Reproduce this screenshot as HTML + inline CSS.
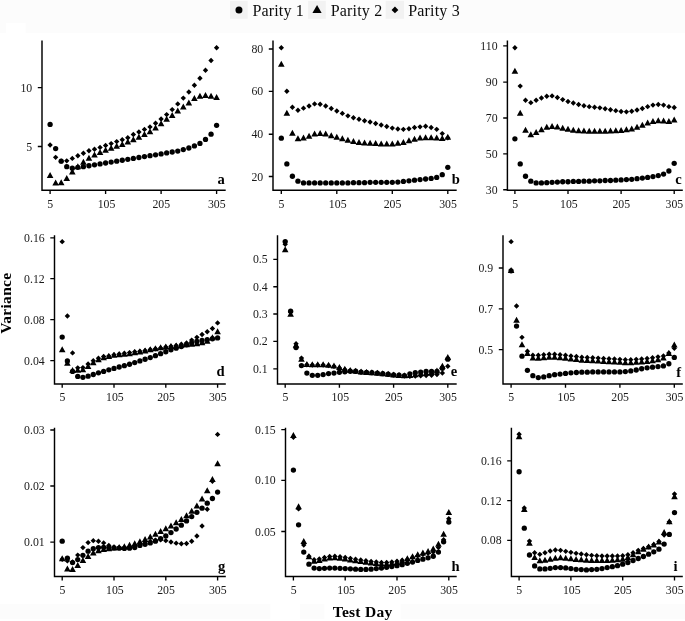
<!DOCTYPE html>
<html><head><meta charset="utf-8"><title>Variance by Test Day</title>
<style>
html,body{margin:0;padding:0;background:#fff;}
body{width:685px;height:621px;overflow:hidden;font-family:"Liberation Serif",serif;}
svg{display:block;will-change:transform;}
text{font-family:"Liberation Serif",serif;fill:#1a1a1a;}
.tk{font-size:11.8px;}
.pl{font-size:14.6px;font-weight:bold;fill:#000;}
.ax{stroke:#000;stroke-width:1.45;fill:none;}
.ti{stroke:#000;stroke-width:1.35;fill:none;}
.m{fill:#000;}
</style></head><body>
<svg width="685" height="621" viewBox="0 0 685 621">
<rect x="0" y="0" width="685" height="621" fill="#ffffff"/>
<rect x="0" y="0" width="685" height="33" fill="#fcfcfc"/>
<rect x="6" y="23" width="19.5" height="10" fill="#ffffff"/>
<rect x="0" y="604" width="685" height="15" fill="#fcfcfc"/>
<rect x="270.5" y="604" width="29.5" height="15" fill="#ffffff"/>
<rect x="324.5" y="604" width="76" height="15" fill="#ffffff"/>

<g id="legend">
<rect x="230.0" y="0.9" width="17.7" height="17.9" fill="#f2f2f2"/>
<circle class="m" cx="238.95" cy="9.9" r="3.5"/>
<text x="252.4" y="15.5" font-size="16" letter-spacing="0.16" style="fill:#0d0d0d">Parity 1</text>
<rect x="308.1" y="0.9" width="17.7" height="17.9" fill="#f2f2f2"/>
<path class="m" d="M317.05,5.0 L321.65,13.100000000000001 L312.45,13.100000000000001 Z"/>
<text x="330.8" y="15.5" font-size="16" letter-spacing="0.16" style="fill:#0d0d0d">Parity 2</text>
<rect x="385.7" y="0.9" width="18.3" height="17.9" fill="#f2f2f2"/>
<path class="m" d="M394.95,6.5 L398.35,9.9 L394.95,13.3 L391.55,9.9 Z"/>
<text x="408.3" y="15.5" font-size="16" letter-spacing="0.16" style="fill:#0d0d0d">Parity 3</text>
</g>
<g id="panel-a">
<path class="ax" d="M42.0,40.5 L42.0,190.15 L225.7,190.15"/>
<path class="ti" d="M37.8,87.6 L42.0,87.6 M37.8,146.5 L42.0,146.5 M50.1,190.15 L50.1,194.05 M105.6,190.15 L105.6,194.05 M161.1,190.15 L161.1,194.05 M216.6,190.15 L216.6,194.05"/>
<text class="tk" x="32.2" y="91.6" text-anchor="end">10</text>
<text class="tk" x="32.2" y="150.5" text-anchor="end">5</text>
<text class="tk" x="50.3" y="207.55" text-anchor="middle">5</text>
<text class="tk" x="106.5" y="207.55" text-anchor="middle">105</text>
<text class="tk" x="161.3" y="207.55" text-anchor="middle">205</text>
<text class="tk" x="216.8" y="207.55" text-anchor="middle">305</text>
<g class="m"><circle cx="50.1" cy="124.46" r="2.65"/><circle cx="55.65" cy="148.62" r="2.65"/><circle cx="61.2" cy="161.16" r="2.65"/><circle cx="66.75" cy="166.67" r="2.65"/><circle cx="72.3" cy="168.2" r="2.65"/><circle cx="77.85" cy="167.28" r="2.65"/><circle cx="83.4" cy="166.67" r="2.65"/><circle cx="88.95" cy="165.75" r="2.65"/><circle cx="94.5" cy="164.83" r="2.65"/><circle cx="100.05" cy="163.91" r="2.65"/><circle cx="105.6" cy="163.0" r="2.65"/><circle cx="111.15" cy="162.08" r="2.65"/><circle cx="116.7" cy="161.16" r="2.65"/><circle cx="122.25" cy="160.24" r="2.65"/><circle cx="127.8" cy="159.33" r="2.65"/><circle cx="133.35" cy="158.41" r="2.65"/><circle cx="138.9" cy="157.5" r="2.65"/><circle cx="144.45" cy="156.6" r="2.65"/><circle cx="150.0" cy="155.7" r="2.65"/><circle cx="155.55" cy="154.8" r="2.65"/><circle cx="161.1" cy="153.9" r="2.65"/><circle cx="166.65" cy="152.9" r="2.65"/><circle cx="172.2" cy="152.0" r="2.65"/><circle cx="177.75" cy="151.1" r="2.65"/><circle cx="183.3" cy="149.6" r="2.65"/><circle cx="188.85" cy="148.0" r="2.65"/><circle cx="194.4" cy="145.9" r="2.65"/><circle cx="199.95" cy="143.4" r="2.65"/><circle cx="205.5" cy="139.4" r="2.65"/><circle cx="211.05" cy="134.2" r="2.65"/><circle cx="216.6" cy="125.3" r="2.65"/></g>
<path class="m" d="M50.1,171.92l3.3,6.0h-6.6zM55.65,179.57l3.3,6.0h-6.6zM61.2,179.26l3.3,6.0h-6.6zM66.75,174.98l3.3,6.0h-6.6zM72.3,168.56l3.3,6.0h-6.6zM77.85,163.36l3.3,6.0h-6.6zM83.4,158.77l3.3,6.0h-6.6zM88.95,154.8l3.3,6.0h-6.6zM94.5,151.43l3.3,6.0h-6.6zM100.05,148.99l3.3,6.0h-6.6zM105.6,146.69l3.3,6.0h-6.6zM111.15,144.71l3.3,6.0h-6.6zM116.7,142.87l3.3,6.0h-6.6zM122.25,140.88l3.3,6.0h-6.6zM127.8,138.59l3.3,6.0h-6.6zM133.35,136.14l3.3,6.0h-6.6zM138.9,133.7l3.3,6.0h-6.6zM144.45,131.0l3.3,6.0h-6.6zM150.0,128.3l3.3,6.0h-6.6zM155.55,124.5l3.3,6.0h-6.6zM161.1,120.3l3.3,6.0h-6.6zM166.65,115.7l3.3,6.0h-6.6zM172.2,111.9l3.3,6.0h-6.6zM177.75,107.6l3.3,6.0h-6.6zM183.3,103.5l3.3,6.0h-6.6zM188.85,99.4l3.3,6.0h-6.6zM194.4,95.1l3.3,6.0h-6.6zM199.95,92.8l3.3,6.0h-6.6zM205.5,92.0l3.3,6.0h-6.6zM211.05,92.8l3.3,6.0h-6.6zM216.6,93.9l3.3,6.0h-6.6z"/>
<path class="m" d="M50.1,142.25l2.7,2.7l-2.7,2.7l-2.7,-2.7zM55.65,154.64l2.7,2.7l-2.7,2.7l-2.7,-2.7zM61.2,158.46l2.7,2.7l-2.7,2.7l-2.7,-2.7zM66.75,158.16l2.7,2.7l-2.7,2.7l-2.7,-2.7zM72.3,155.71l2.7,2.7l-2.7,2.7l-2.7,-2.7zM77.85,153.11l2.7,2.7l-2.7,2.7l-2.7,-2.7zM83.4,150.51l2.7,2.7l-2.7,2.7l-2.7,-2.7zM88.95,148.06l2.7,2.7l-2.7,2.7l-2.7,-2.7zM94.5,146.54l2.7,2.7l-2.7,2.7l-2.7,-2.7zM100.05,144.7l2.7,2.7l-2.7,2.7l-2.7,-2.7zM105.6,142.87l2.7,2.7l-2.7,2.7l-2.7,-2.7zM111.15,140.88l2.7,2.7l-2.7,2.7l-2.7,-2.7zM116.7,138.89l2.7,2.7l-2.7,2.7l-2.7,-2.7zM122.25,137.06l2.7,2.7l-2.7,2.7l-2.7,-2.7zM127.8,135.07l2.7,2.7l-2.7,2.7l-2.7,-2.7zM133.35,131.8l2.7,2.7l-2.7,2.7l-2.7,-2.7zM138.9,129.3l2.7,2.7l-2.7,2.7l-2.7,-2.7zM144.45,126.7l2.7,2.7l-2.7,2.7l-2.7,-2.7zM150.0,124.2l2.7,2.7l-2.7,2.7l-2.7,-2.7zM155.55,120.6l2.7,2.7l-2.7,2.7l-2.7,-2.7zM161.1,116.3l2.7,2.7l-2.7,2.7l-2.7,-2.7zM166.65,111.9l2.7,2.7l-2.7,2.7l-2.7,-2.7zM172.2,106.9l2.7,2.7l-2.7,2.7l-2.7,-2.7zM177.75,101.2l2.7,2.7l-2.7,2.7l-2.7,-2.7zM183.3,95.4l2.7,2.7l-2.7,2.7l-2.7,-2.7zM188.85,89.3l2.7,2.7l-2.7,2.7l-2.7,-2.7zM194.4,82.6l2.7,2.7l-2.7,2.7l-2.7,-2.7zM199.95,75.5l2.7,2.7l-2.7,2.7l-2.7,-2.7zM205.5,67.6l2.7,2.7l-2.7,2.7l-2.7,-2.7zM211.05,57.8l2.7,2.7l-2.7,2.7l-2.7,-2.7zM216.6,45.1l2.7,2.7l-2.7,2.7l-2.7,-2.7z"/>
<text class="pl" x="221.1" y="183.8" text-anchor="middle">a</text>
</g>
<g id="panel-b">
<path class="ax" d="M273.0,40.5 L273.0,190.15 L456.7,190.15"/>
<path class="ti" d="M268.8,49.0 L273.0,49.0 M268.8,91.3 L273.0,91.3 M268.8,134.2 L273.0,134.2 M268.8,176.5 L273.0,176.5 M281.3,190.15 L281.3,194.05 M336.8,190.15 L336.8,194.05 M392.3,190.15 L392.3,194.05 M447.8,190.15 L447.8,194.05"/>
<text class="tk" x="263.2" y="53.0" text-anchor="end">80</text>
<text class="tk" x="263.2" y="95.3" text-anchor="end">60</text>
<text class="tk" x="263.2" y="138.2" text-anchor="end">40</text>
<text class="tk" x="263.2" y="180.5" text-anchor="end">20</text>
<text class="tk" x="281.5" y="207.55" text-anchor="middle">5</text>
<text class="tk" x="337.7" y="207.55" text-anchor="middle">105</text>
<text class="tk" x="392.5" y="207.55" text-anchor="middle">205</text>
<text class="tk" x="448.0" y="207.55" text-anchor="middle">305</text>
<g class="m"><circle cx="281.3" cy="138.22" r="2.65"/><circle cx="286.85" cy="163.97" r="2.65"/><circle cx="292.4" cy="176.23" r="2.65"/><circle cx="297.95" cy="181.13" r="2.65"/><circle cx="303.5" cy="182.97" r="2.65"/><circle cx="309.05" cy="182.97" r="2.65"/><circle cx="314.6" cy="182.97" r="2.65"/><circle cx="320.15" cy="182.97" r="2.65"/><circle cx="325.7" cy="182.97" r="2.65"/><circle cx="331.25" cy="182.97" r="2.65"/><circle cx="336.8" cy="182.97" r="2.65"/><circle cx="342.35" cy="182.97" r="2.65"/><circle cx="347.9" cy="182.97" r="2.65"/><circle cx="353.45" cy="182.67" r="2.65"/><circle cx="359.0" cy="182.67" r="2.65"/><circle cx="364.55" cy="182.67" r="2.65"/><circle cx="370.1" cy="182.36" r="2.65"/><circle cx="375.65" cy="182.36" r="2.65"/><circle cx="381.2" cy="182.36" r="2.65"/><circle cx="386.75" cy="182.36" r="2.65"/><circle cx="392.3" cy="182.36" r="2.65"/><circle cx="397.85" cy="182.05" r="2.65"/><circle cx="403.4" cy="181.44" r="2.65"/><circle cx="408.95" cy="180.83" r="2.65"/><circle cx="414.5" cy="180.21" r="2.65"/><circle cx="420.05" cy="179.6" r="2.65"/><circle cx="425.6" cy="178.99" r="2.65"/><circle cx="431.15" cy="178.38" r="2.65"/><circle cx="436.7" cy="177.46" r="2.65"/><circle cx="442.25" cy="174.7" r="2.65"/><circle cx="447.8" cy="167.34" r="2.65"/></g>
<path class="m" d="M281.3,60.72l3.3,6.0h-6.6zM286.85,109.77l3.3,6.0h-6.6zM292.4,129.7l3.3,6.0h-6.6zM297.95,135.22l3.3,6.0h-6.6zM303.5,134.6l3.3,6.0h-6.6zM309.05,132.76l3.3,6.0h-6.6zM314.6,130.62l3.3,6.0h-6.6zM320.15,130.0l3.3,6.0h-6.6zM325.7,130.62l3.3,6.0h-6.6zM331.25,132.15l3.3,6.0h-6.6zM336.8,133.68l3.3,6.0h-6.6zM342.35,135.22l3.3,6.0h-6.6zM347.9,136.75l3.3,6.0h-6.6zM353.45,137.97l3.3,6.0h-6.6zM359.0,138.89l3.3,6.0h-6.6zM364.55,139.51l3.3,6.0h-6.6zM370.1,139.81l3.3,6.0h-6.6zM375.65,140.12l3.3,6.0h-6.6zM381.2,140.43l3.3,6.0h-6.6zM386.75,140.43l3.3,6.0h-6.6zM392.3,140.43l3.3,6.0h-6.6zM397.85,139.81l3.3,6.0h-6.6zM403.4,138.89l3.3,6.0h-6.6zM408.95,137.36l3.3,6.0h-6.6zM414.5,135.83l3.3,6.0h-6.6zM420.05,134.6l3.3,6.0h-6.6zM425.6,134.3l3.3,6.0h-6.6zM431.15,134.3l3.3,6.0h-6.6zM436.7,134.6l3.3,6.0h-6.6zM442.25,134.91l3.3,6.0h-6.6zM447.8,133.68l3.3,6.0h-6.6z"/>
<path class="m" d="M281.3,45.08l2.7,2.7l-2.7,2.7l-2.7,-2.7zM286.85,88.61l2.7,2.7l-2.7,2.7l-2.7,-2.7zM292.4,104.55l2.7,2.7l-2.7,2.7l-2.7,-2.7zM297.95,107.62l2.7,2.7l-2.7,2.7l-2.7,-2.7zM303.5,105.47l2.7,2.7l-2.7,2.7l-2.7,-2.7zM309.05,103.33l2.7,2.7l-2.7,2.7l-2.7,-2.7zM314.6,101.18l2.7,2.7l-2.7,2.7l-2.7,-2.7zM320.15,101.49l2.7,2.7l-2.7,2.7l-2.7,-2.7zM325.7,103.33l2.7,2.7l-2.7,2.7l-2.7,-2.7zM331.25,105.78l2.7,2.7l-2.7,2.7l-2.7,-2.7zM336.8,108.23l2.7,2.7l-2.7,2.7l-2.7,-2.7zM342.35,110.68l2.7,2.7l-2.7,2.7l-2.7,-2.7zM347.9,113.14l2.7,2.7l-2.7,2.7l-2.7,-2.7zM353.45,114.98l2.7,2.7l-2.7,2.7l-2.7,-2.7zM359.0,116.51l2.7,2.7l-2.7,2.7l-2.7,-2.7zM364.55,118.04l2.7,2.7l-2.7,2.7l-2.7,-2.7zM370.1,119.27l2.7,2.7l-2.7,2.7l-2.7,-2.7zM375.65,120.8l2.7,2.7l-2.7,2.7l-2.7,-2.7zM381.2,122.33l2.7,2.7l-2.7,2.7l-2.7,-2.7zM386.75,123.87l2.7,2.7l-2.7,2.7l-2.7,-2.7zM392.3,125.4l2.7,2.7l-2.7,2.7l-2.7,-2.7zM397.85,126.32l2.7,2.7l-2.7,2.7l-2.7,-2.7zM403.4,126.63l2.7,2.7l-2.7,2.7l-2.7,-2.7zM408.95,126.01l2.7,2.7l-2.7,2.7l-2.7,-2.7zM414.5,124.79l2.7,2.7l-2.7,2.7l-2.7,-2.7zM420.05,124.17l2.7,2.7l-2.7,2.7l-2.7,-2.7zM425.6,123.56l2.7,2.7l-2.7,2.7l-2.7,-2.7zM431.15,124.79l2.7,2.7l-2.7,2.7l-2.7,-2.7zM436.7,126.63l2.7,2.7l-2.7,2.7l-2.7,-2.7zM442.25,130.92l2.7,2.7l-2.7,2.7l-2.7,-2.7zM447.8,135.21l2.7,2.7l-2.7,2.7l-2.7,-2.7z"/>
<text class="pl" x="455.8" y="183.5" text-anchor="middle">b</text>
</g>
<g id="panel-c">
<path class="ax" d="M507.4,40.5 L507.4,190.15 L682.8,190.15"/>
<path class="ti" d="M503.2,45.9 L507.4,45.9 M503.2,82.1 L507.4,82.1 M503.2,118.0 L507.4,118.0 M503.2,153.9 L507.4,153.9 M503.2,189.7 L507.4,189.7 M514.9,190.15 L514.9,194.05 M568.0,190.15 L568.0,194.05 M621.1,190.15 L621.1,194.05 M674.2,190.15 L674.2,194.05"/>
<text class="tk" x="497.59999999999997" y="49.9" text-anchor="end">110</text>
<text class="tk" x="497.59999999999997" y="86.1" text-anchor="end">90</text>
<text class="tk" x="497.59999999999997" y="122.0" text-anchor="end">70</text>
<text class="tk" x="497.59999999999997" y="157.9" text-anchor="end">50</text>
<text class="tk" x="497.59999999999997" y="193.7" text-anchor="end">30</text>
<text class="tk" x="515.1" y="207.55" text-anchor="middle">5</text>
<text class="tk" x="568.9" y="207.55" text-anchor="middle">105</text>
<text class="tk" x="621.3" y="207.55" text-anchor="middle">205</text>
<text class="tk" x="674.4" y="207.55" text-anchor="middle">305</text>
<g class="m"><circle cx="514.9" cy="138.83" r="2.65"/><circle cx="520.21" cy="163.97" r="2.65"/><circle cx="525.52" cy="176.23" r="2.65"/><circle cx="530.83" cy="181.13" r="2.65"/><circle cx="536.14" cy="182.97" r="2.65"/><circle cx="541.45" cy="182.97" r="2.65"/><circle cx="546.76" cy="182.67" r="2.65"/><circle cx="552.07" cy="182.36" r="2.65"/><circle cx="557.38" cy="182.05" r="2.65"/><circle cx="562.69" cy="181.75" r="2.65"/><circle cx="568.0" cy="181.75" r="2.65"/><circle cx="573.31" cy="181.44" r="2.65"/><circle cx="578.62" cy="181.44" r="2.65"/><circle cx="583.93" cy="181.13" r="2.65"/><circle cx="589.24" cy="181.13" r="2.65"/><circle cx="594.55" cy="180.83" r="2.65"/><circle cx="599.86" cy="180.83" r="2.65"/><circle cx="605.17" cy="180.52" r="2.65"/><circle cx="610.48" cy="180.52" r="2.65"/><circle cx="615.79" cy="180.21" r="2.65"/><circle cx="621.1" cy="179.91" r="2.65"/><circle cx="626.41" cy="179.6" r="2.65"/><circle cx="631.72" cy="179.29" r="2.65"/><circle cx="637.03" cy="178.68" r="2.65"/><circle cx="642.34" cy="178.07" r="2.65"/><circle cx="647.65" cy="177.46" r="2.65"/><circle cx="652.96" cy="176.54" r="2.65"/><circle cx="658.27" cy="175.62" r="2.65"/><circle cx="663.58" cy="174.08" r="2.65"/><circle cx="668.89" cy="171.02" r="2.65"/><circle cx="674.2" cy="163.35" r="2.65"/></g>
<path class="m" d="M514.9,67.77l3.3,6.0h-6.6zM520.21,109.77l3.3,6.0h-6.6zM525.52,126.63l3.3,6.0h-6.6zM530.83,131.23l3.3,6.0h-6.6zM536.14,129.08l3.3,6.0h-6.6zM541.45,126.33l3.3,6.0h-6.6zM546.76,123.87l3.3,6.0h-6.6zM552.07,122.95l3.3,6.0h-6.6zM557.38,123.57l3.3,6.0h-6.6zM562.69,124.79l3.3,6.0h-6.6zM568.0,125.71l3.3,6.0h-6.6zM573.31,126.63l3.3,6.0h-6.6zM578.62,127.25l3.3,6.0h-6.6zM583.93,127.55l3.3,6.0h-6.6zM589.24,127.86l3.3,6.0h-6.6zM594.55,127.86l3.3,6.0h-6.6zM599.86,127.86l3.3,6.0h-6.6zM605.17,127.86l3.3,6.0h-6.6zM610.48,127.55l3.3,6.0h-6.6zM615.79,127.25l3.3,6.0h-6.6zM621.1,126.94l3.3,6.0h-6.6zM626.41,126.33l3.3,6.0h-6.6zM631.72,125.41l3.3,6.0h-6.6zM637.03,123.87l3.3,6.0h-6.6zM642.34,121.73l3.3,6.0h-6.6zM647.65,119.58l3.3,6.0h-6.6zM652.96,118.05l3.3,6.0h-6.6zM658.27,117.13l3.3,6.0h-6.6zM663.58,117.44l3.3,6.0h-6.6zM668.89,118.05l3.3,6.0h-6.6zM674.2,116.52l3.3,6.0h-6.6z"/>
<path class="m" d="M514.9,45.08l2.7,2.7l-2.7,2.7l-2.7,-2.7zM520.21,83.4l2.7,2.7l-2.7,2.7l-2.7,-2.7zM525.52,97.5l2.7,2.7l-2.7,2.7l-2.7,-2.7zM530.83,99.95l2.7,2.7l-2.7,2.7l-2.7,-2.7zM536.14,97.5l2.7,2.7l-2.7,2.7l-2.7,-2.7zM541.45,95.36l2.7,2.7l-2.7,2.7l-2.7,-2.7zM546.76,93.52l2.7,2.7l-2.7,2.7l-2.7,-2.7zM552.07,93.21l2.7,2.7l-2.7,2.7l-2.7,-2.7zM557.38,94.74l2.7,2.7l-2.7,2.7l-2.7,-2.7zM562.69,96.89l2.7,2.7l-2.7,2.7l-2.7,-2.7zM568.0,98.73l2.7,2.7l-2.7,2.7l-2.7,-2.7zM573.31,100.26l2.7,2.7l-2.7,2.7l-2.7,-2.7zM578.62,101.79l2.7,2.7l-2.7,2.7l-2.7,-2.7zM583.93,103.02l2.7,2.7l-2.7,2.7l-2.7,-2.7zM589.24,103.94l2.7,2.7l-2.7,2.7l-2.7,-2.7zM594.55,104.55l2.7,2.7l-2.7,2.7l-2.7,-2.7zM599.86,105.17l2.7,2.7l-2.7,2.7l-2.7,-2.7zM605.17,106.09l2.7,2.7l-2.7,2.7l-2.7,-2.7zM610.48,107.01l2.7,2.7l-2.7,2.7l-2.7,-2.7zM615.79,107.93l2.7,2.7l-2.7,2.7l-2.7,-2.7zM621.1,108.85l2.7,2.7l-2.7,2.7l-2.7,-2.7zM626.41,109.15l2.7,2.7l-2.7,2.7l-2.7,-2.7zM631.72,108.54l2.7,2.7l-2.7,2.7l-2.7,-2.7zM637.03,107.31l2.7,2.7l-2.7,2.7l-2.7,-2.7zM642.34,105.78l2.7,2.7l-2.7,2.7l-2.7,-2.7zM647.65,103.94l2.7,2.7l-2.7,2.7l-2.7,-2.7zM652.96,102.41l2.7,2.7l-2.7,2.7l-2.7,-2.7zM658.27,101.79l2.7,2.7l-2.7,2.7l-2.7,-2.7zM663.58,102.41l2.7,2.7l-2.7,2.7l-2.7,-2.7zM668.89,103.94l2.7,2.7l-2.7,2.7l-2.7,-2.7zM674.2,104.86l2.7,2.7l-2.7,2.7l-2.7,-2.7z"/>
<text class="pl" x="678.4" y="183.7" text-anchor="middle">c</text>
</g>
<g id="panel-d">
<path class="ax" d="M54.5,235.3 L54.5,383.9 L225.8,383.9"/>
<path class="ti" d="M50.3,237.9 L54.5,237.9 M50.3,278.6 L54.5,278.6 M50.3,319.6 L54.5,319.6 M50.3,360.6 L54.5,360.6 M62.2,383.9 L62.2,387.79999999999995 M114.0,383.9 L114.0,387.79999999999995 M165.8,383.9 L165.8,387.79999999999995 M217.6,383.9 L217.6,387.79999999999995"/>
<text class="tk" x="44.7" y="241.9" text-anchor="end">0.16</text>
<text class="tk" x="44.7" y="282.6" text-anchor="end">0.12</text>
<text class="tk" x="44.7" y="323.6" text-anchor="end">0.08</text>
<text class="tk" x="44.7" y="364.6" text-anchor="end">0.04</text>
<text class="tk" x="62.4" y="401.3" text-anchor="middle">5</text>
<text class="tk" x="114.9" y="401.3" text-anchor="middle">105</text>
<text class="tk" x="166.0" y="401.3" text-anchor="middle">205</text>
<text class="tk" x="217.8" y="401.3" text-anchor="middle">305</text>
<g class="m"><circle cx="62.2" cy="337.07" r="2.65"/><circle cx="67.38" cy="360.92" r="2.65"/><circle cx="72.56" cy="371.46" r="2.65"/><circle cx="77.74" cy="376.46" r="2.65"/><circle cx="82.92" cy="377.29" r="2.65"/><circle cx="88.1" cy="376.18" r="2.65"/><circle cx="93.28" cy="374.51" r="2.65"/><circle cx="98.46" cy="372.85" r="2.65"/><circle cx="103.64" cy="371.46" r="2.65"/><circle cx="108.82" cy="369.8" r="2.65"/><circle cx="114.0" cy="368.41" r="2.65"/><circle cx="119.18" cy="367.02" r="2.65"/><circle cx="124.36" cy="365.64" r="2.65"/><circle cx="129.54" cy="364.25" r="2.65"/><circle cx="134.72" cy="362.59" r="2.65"/><circle cx="139.9" cy="360.92" r="2.65"/><circle cx="145.08" cy="359.26" r="2.65"/><circle cx="150.26" cy="357.59" r="2.65"/><circle cx="155.44" cy="355.65" r="2.65"/><circle cx="160.62" cy="353.71" r="2.65"/><circle cx="165.8" cy="351.77" r="2.65"/><circle cx="170.98" cy="349.83" r="2.65"/><circle cx="176.16" cy="348.16" r="2.65"/><circle cx="181.34" cy="346.5" r="2.65"/><circle cx="186.52" cy="344.83" r="2.65"/><circle cx="191.7" cy="342.89" r="2.65"/><circle cx="196.88" cy="341.5" r="2.65"/><circle cx="202.06" cy="340.4" r="2.65"/><circle cx="207.24" cy="339.56" r="2.65"/><circle cx="212.42" cy="338.73" r="2.65"/><circle cx="217.6" cy="337.9" r="2.65"/></g>
<path class="m" d="M62.2,346.27l3.3,6.0h-6.6zM67.38,359.86l3.3,6.0h-6.6zM72.56,367.08l3.3,6.0h-6.6zM77.74,366.8l3.3,6.0h-6.6zM82.92,366.24l3.3,6.0h-6.6zM88.1,362.92l3.3,6.0h-6.6zM93.28,359.31l3.3,6.0h-6.6zM98.46,356.26l3.3,6.0h-6.6zM103.64,354.32l3.3,6.0h-6.6zM108.82,352.93l3.3,6.0h-6.6zM114.0,351.82l3.3,6.0h-6.6zM119.18,351.26l3.3,6.0h-6.6zM124.36,350.71l3.3,6.0h-6.6zM129.54,350.16l3.3,6.0h-6.6zM134.72,349.32l3.3,6.0h-6.6zM139.9,348.49l3.3,6.0h-6.6zM145.08,347.38l3.3,6.0h-6.6zM150.26,346.27l3.3,6.0h-6.6zM155.44,345.16l3.3,6.0h-6.6zM160.62,344.33l3.3,6.0h-6.6zM165.8,343.5l3.3,6.0h-6.6zM170.98,342.94l3.3,6.0h-6.6zM176.16,342.39l3.3,6.0h-6.6zM181.34,341.83l3.3,6.0h-6.6zM186.52,341.28l3.3,6.0h-6.6zM191.7,340.72l3.3,6.0h-6.6zM196.88,340.17l3.3,6.0h-6.6zM202.06,339.34l3.3,6.0h-6.6zM207.24,337.67l3.3,6.0h-6.6zM212.42,334.34l3.3,6.0h-6.6zM217.6,328.24l3.3,6.0h-6.6z"/>
<path class="m" d="M62.2,238.94l2.7,2.7l-2.7,2.7l-2.7,-2.7zM67.38,313.28l2.7,2.7l-2.7,2.7l-2.7,-2.7zM72.56,350.18l2.7,2.7l-2.7,2.7l-2.7,-2.7zM77.74,365.16l2.7,2.7l-2.7,2.7l-2.7,-2.7zM82.92,364.88l2.7,2.7l-2.7,2.7l-2.7,-2.7zM88.1,361.27l2.7,2.7l-2.7,2.7l-2.7,-2.7zM93.28,357.94l2.7,2.7l-2.7,2.7l-2.7,-2.7zM98.46,355.45l2.7,2.7l-2.7,2.7l-2.7,-2.7zM103.64,353.78l2.7,2.7l-2.7,2.7l-2.7,-2.7zM108.82,353.23l2.7,2.7l-2.7,2.7l-2.7,-2.7zM114.0,352.12l2.7,2.7l-2.7,2.7l-2.7,-2.7zM119.18,351.29l2.7,2.7l-2.7,2.7l-2.7,-2.7zM124.36,350.46l2.7,2.7l-2.7,2.7l-2.7,-2.7zM129.54,349.9l2.7,2.7l-2.7,2.7l-2.7,-2.7zM134.72,349.07l2.7,2.7l-2.7,2.7l-2.7,-2.7zM139.9,348.51l2.7,2.7l-2.7,2.7l-2.7,-2.7zM145.08,347.68l2.7,2.7l-2.7,2.7l-2.7,-2.7zM150.26,346.85l2.7,2.7l-2.7,2.7l-2.7,-2.7zM155.44,346.02l2.7,2.7l-2.7,2.7l-2.7,-2.7zM160.62,345.18l2.7,2.7l-2.7,2.7l-2.7,-2.7zM165.8,344.35l2.7,2.7l-2.7,2.7l-2.7,-2.7zM170.98,343.52l2.7,2.7l-2.7,2.7l-2.7,-2.7zM176.16,342.69l2.7,2.7l-2.7,2.7l-2.7,-2.7zM181.34,341.58l2.7,2.7l-2.7,2.7l-2.7,-2.7zM186.52,340.19l2.7,2.7l-2.7,2.7l-2.7,-2.7zM191.7,337.42l2.7,2.7l-2.7,2.7l-2.7,-2.7zM196.88,334.64l2.7,2.7l-2.7,2.7l-2.7,-2.7zM202.06,331.87l2.7,2.7l-2.7,2.7l-2.7,-2.7zM207.24,329.1l2.7,2.7l-2.7,2.7l-2.7,-2.7zM212.42,325.77l2.7,2.7l-2.7,2.7l-2.7,-2.7zM217.6,320.22l2.7,2.7l-2.7,2.7l-2.7,-2.7z"/>
<text class="pl" x="220.6" y="376.3" text-anchor="middle">d</text>
</g>
<g id="panel-e">
<path class="ax" d="M277.5,235.3 L277.5,383.9 L456.7,383.9"/>
<path class="ti" d="M273.3,259.4 L277.5,259.4 M273.3,286.7 L277.5,286.7 M273.3,314.0 L277.5,314.0 M273.3,341.4 L277.5,341.4 M273.3,368.8 L277.5,368.8 M285.2,383.9 L285.2,387.79999999999995 M339.4,383.9 L339.4,387.79999999999995 M393.6,383.9 L393.6,387.79999999999995 M447.8,383.9 L447.8,387.79999999999995"/>
<text class="tk" x="267.7" y="263.4" text-anchor="end">0.5</text>
<text class="tk" x="267.7" y="290.7" text-anchor="end">0.4</text>
<text class="tk" x="267.7" y="318.0" text-anchor="end">0.3</text>
<text class="tk" x="267.7" y="345.4" text-anchor="end">0.2</text>
<text class="tk" x="267.7" y="372.8" text-anchor="end">0.1</text>
<text class="tk" x="285.4" y="401.3" text-anchor="middle">5</text>
<text class="tk" x="340.3" y="401.3" text-anchor="middle">105</text>
<text class="tk" x="393.8" y="401.3" text-anchor="middle">205</text>
<text class="tk" x="448.0" y="401.3" text-anchor="middle">305</text>
<g class="m"><circle cx="285.2" cy="241.6" r="2.65"/><circle cx="290.62" cy="311.19" r="2.65"/><circle cx="296.04" cy="347.53" r="2.65"/><circle cx="301.46" cy="365.57" r="2.65"/><circle cx="306.88" cy="373.04" r="2.65"/><circle cx="312.3" cy="375.36" r="2.65"/><circle cx="317.72" cy="375.36" r="2.65"/><circle cx="323.14" cy="374.59" r="2.65"/><circle cx="328.56" cy="373.56" r="2.65"/><circle cx="333.98" cy="373.04" r="2.65"/><circle cx="339.4" cy="372.27" r="2.65"/><circle cx="344.82" cy="371.75" r="2.65"/><circle cx="350.24" cy="371.24" r="2.65"/><circle cx="355.66" cy="371.24" r="2.65"/><circle cx="361.08" cy="372.04" r="2.65"/><circle cx="366.5" cy="372.34" r="2.65"/><circle cx="371.92" cy="372.63" r="2.65"/><circle cx="377.34" cy="373.07" r="2.65"/><circle cx="382.76" cy="373.65" r="2.65"/><circle cx="388.18" cy="374.23" r="2.65"/><circle cx="393.6" cy="374.82" r="2.65"/><circle cx="399.02" cy="375.26" r="2.65"/><circle cx="404.44" cy="375.55" r="2.65"/><circle cx="409.86" cy="373.8" r="2.65"/><circle cx="415.28" cy="372.77" r="2.65"/><circle cx="420.7" cy="372.04" r="2.65"/><circle cx="426.12" cy="371.46" r="2.65"/><circle cx="431.54" cy="371.31" r="2.65"/><circle cx="436.96" cy="371.31" r="2.65"/><circle cx="442.38" cy="368.25" r="2.65"/><circle cx="447.8" cy="359.2" r="2.65"/></g>
<path class="m" d="M285.2,246.33l3.3,6.0h-6.6zM290.62,310.76l3.3,6.0h-6.6zM296.04,341.69l3.3,6.0h-6.6zM301.46,355.87l3.3,6.0h-6.6zM306.88,361.02l3.3,6.0h-6.6zM312.3,361.28l3.3,6.0h-6.6zM317.72,361.28l3.3,6.0h-6.6zM323.14,361.28l3.3,6.0h-6.6zM328.56,361.79l3.3,6.0h-6.6zM333.98,362.57l3.3,6.0h-6.6zM339.4,364.11l3.3,6.0h-6.6zM344.82,365.66l3.3,6.0h-6.6zM350.24,366.95l3.3,6.0h-6.6zM355.66,367.72l3.3,6.0h-6.6zM361.08,368.61l3.3,6.0h-6.6zM366.5,368.9l3.3,6.0h-6.6zM371.92,369.19l3.3,6.0h-6.6zM377.34,369.63l3.3,6.0h-6.6zM382.76,370.21l3.3,6.0h-6.6zM388.18,370.8l3.3,6.0h-6.6zM393.6,371.53l3.3,6.0h-6.6zM399.02,371.96l3.3,6.0h-6.6zM404.44,372.26l3.3,6.0h-6.6zM409.86,371.96l3.3,6.0h-6.6zM415.28,371.23l3.3,6.0h-6.6zM420.7,370.36l3.3,6.0h-6.6zM426.12,369.63l3.3,6.0h-6.6zM431.54,368.9l3.3,6.0h-6.6zM436.96,367.58l3.3,6.0h-6.6zM442.38,362.77l3.3,6.0h-6.6zM447.8,354.01l3.3,6.0h-6.6z"/>
<path class="m" d="M285.2,241.48l2.7,2.7l-2.7,2.7l-2.7,-2.7zM290.62,309.26l2.7,2.7l-2.7,2.7l-2.7,-2.7zM296.04,340.96l2.7,2.7l-2.7,2.7l-2.7,-2.7zM301.46,355.39l2.7,2.7l-2.7,2.7l-2.7,-2.7zM306.88,362.09l2.7,2.7l-2.7,2.7l-2.7,-2.7zM312.3,362.35l2.7,2.7l-2.7,2.7l-2.7,-2.7zM317.72,362.35l2.7,2.7l-2.7,2.7l-2.7,-2.7zM323.14,362.35l2.7,2.7l-2.7,2.7l-2.7,-2.7zM328.56,362.87l2.7,2.7l-2.7,2.7l-2.7,-2.7zM333.98,363.64l2.7,2.7l-2.7,2.7l-2.7,-2.7zM339.4,365.19l2.7,2.7l-2.7,2.7l-2.7,-2.7zM344.82,366.73l2.7,2.7l-2.7,2.7l-2.7,-2.7zM350.24,368.02l2.7,2.7l-2.7,2.7l-2.7,-2.7zM355.66,368.54l2.7,2.7l-2.7,2.7l-2.7,-2.7zM361.08,369.2l2.7,2.7l-2.7,2.7l-2.7,-2.7zM366.5,369.49l2.7,2.7l-2.7,2.7l-2.7,-2.7zM371.92,369.78l2.7,2.7l-2.7,2.7l-2.7,-2.7zM377.34,370.22l2.7,2.7l-2.7,2.7l-2.7,-2.7zM382.76,370.8l2.7,2.7l-2.7,2.7l-2.7,-2.7zM388.18,371.39l2.7,2.7l-2.7,2.7l-2.7,-2.7zM393.6,372.12l2.7,2.7l-2.7,2.7l-2.7,-2.7zM399.02,372.56l2.7,2.7l-2.7,2.7l-2.7,-2.7zM404.44,373.14l2.7,2.7l-2.7,2.7l-2.7,-2.7zM409.86,373.72l2.7,2.7l-2.7,2.7l-2.7,-2.7zM415.28,373.43l2.7,2.7l-2.7,2.7l-2.7,-2.7zM420.7,373.14l2.7,2.7l-2.7,2.7l-2.7,-2.7zM426.12,372.85l2.7,2.7l-2.7,2.7l-2.7,-2.7zM431.54,372.56l2.7,2.7l-2.7,2.7l-2.7,-2.7zM436.96,371.83l2.7,2.7l-2.7,2.7l-2.7,-2.7zM442.38,370.37l2.7,2.7l-2.7,2.7l-2.7,-2.7zM447.8,363.5l2.7,2.7l-2.7,2.7l-2.7,-2.7z"/>
<text class="pl" x="454.0" y="375.9" text-anchor="middle">e</text>
</g>
<g id="panel-f">
<path class="ax" d="M503.0,235.3 L503.0,383.9 L682.8,383.9"/>
<path class="ti" d="M498.8,268.0 L503.0,268.0 M498.8,308.8 L503.0,308.8 M498.8,349.6 L503.0,349.6 M511.1,383.9 L511.1,387.79999999999995 M565.5,383.9 L565.5,387.79999999999995 M619.9,383.9 L619.9,387.79999999999995 M674.3,383.9 L674.3,387.79999999999995"/>
<text class="tk" x="493.2" y="272.0" text-anchor="end">0.9</text>
<text class="tk" x="493.2" y="312.8" text-anchor="end">0.7</text>
<text class="tk" x="493.2" y="353.6" text-anchor="end">0.5</text>
<text class="tk" x="511.3" y="401.3" text-anchor="middle">5</text>
<text class="tk" x="566.4" y="401.3" text-anchor="middle">105</text>
<text class="tk" x="620.1" y="401.3" text-anchor="middle">205</text>
<text class="tk" x="674.5" y="401.3" text-anchor="middle">305</text>
<g class="m"><circle cx="511.1" cy="270.83" r="2.65"/><circle cx="516.54" cy="326.07" r="2.65"/><circle cx="521.98" cy="356.2" r="2.65"/><circle cx="527.42" cy="370.32" r="2.65"/><circle cx="532.86" cy="375.66" r="2.65"/><circle cx="538.3" cy="377.54" r="2.65"/><circle cx="543.74" cy="376.91" r="2.65"/><circle cx="549.18" cy="375.66" r="2.65"/><circle cx="554.62" cy="374.72" r="2.65"/><circle cx="560.06" cy="374.09" r="2.65"/><circle cx="565.5" cy="373.46" r="2.65"/><circle cx="570.94" cy="372.83" r="2.65"/><circle cx="576.38" cy="372.52" r="2.65"/><circle cx="581.82" cy="372.21" r="2.65"/><circle cx="587.26" cy="372.21" r="2.65"/><circle cx="592.7" cy="371.89" r="2.65"/><circle cx="598.14" cy="371.89" r="2.65"/><circle cx="603.58" cy="371.89" r="2.65"/><circle cx="609.02" cy="371.89" r="2.65"/><circle cx="614.46" cy="371.89" r="2.65"/><circle cx="619.9" cy="371.89" r="2.65"/><circle cx="625.34" cy="371.58" r="2.65"/><circle cx="630.78" cy="370.95" r="2.65"/><circle cx="636.22" cy="370.01" r="2.65"/><circle cx="641.66" cy="368.75" r="2.65"/><circle cx="647.1" cy="367.81" r="2.65"/><circle cx="652.54" cy="367.18" r="2.65"/><circle cx="657.98" cy="366.56" r="2.65"/><circle cx="663.42" cy="365.93" r="2.65"/><circle cx="668.86" cy="363.73" r="2.65"/><circle cx="674.3" cy="357.45" r="2.65"/></g>
<path class="m" d="M511.1,266.88l3.3,6.0h-6.6zM516.54,316.79l3.3,6.0h-6.6zM521.98,341.27l3.3,6.0h-6.6zM527.42,350.06l3.3,6.0h-6.6zM532.86,354.45l3.3,6.0h-6.6zM538.3,354.77l3.3,6.0h-6.6zM543.74,354.14l3.3,6.0h-6.6zM549.18,353.83l3.3,6.0h-6.6zM554.62,353.83l3.3,6.0h-6.6zM560.06,354.14l3.3,6.0h-6.6zM565.5,354.77l3.3,6.0h-6.6zM570.94,355.4l3.3,6.0h-6.6zM576.38,356.02l3.3,6.0h-6.6zM581.82,356.65l3.3,6.0h-6.6zM587.26,356.97l3.3,6.0h-6.6zM592.7,357.28l3.3,6.0h-6.6zM598.14,357.59l3.3,6.0h-6.6zM603.58,357.91l3.3,6.0h-6.6zM609.02,358.22l3.3,6.0h-6.6zM614.46,358.53l3.3,6.0h-6.6zM619.9,358.85l3.3,6.0h-6.6zM625.34,359.16l3.3,6.0h-6.6zM630.78,359.16l3.3,6.0h-6.6zM636.22,358.85l3.3,6.0h-6.6zM641.66,358.53l3.3,6.0h-6.6zM647.1,357.91l3.3,6.0h-6.6zM652.54,357.28l3.3,6.0h-6.6zM657.98,356.34l3.3,6.0h-6.6zM663.42,354.45l3.3,6.0h-6.6zM668.86,350.06l3.3,6.0h-6.6zM674.3,341.59l3.3,6.0h-6.6z"/>
<path class="m" d="M511.1,238.94l2.7,2.7l-2.7,2.7l-2.7,-2.7zM516.54,303.28l2.7,2.7l-2.7,2.7l-2.7,-2.7zM521.98,334.67l2.7,2.7l-2.7,2.7l-2.7,-2.7zM527.42,348.48l2.7,2.7l-2.7,2.7l-2.7,-2.7zM532.86,352.56l2.7,2.7l-2.7,2.7l-2.7,-2.7zM538.3,352.56l2.7,2.7l-2.7,2.7l-2.7,-2.7zM543.74,351.93l2.7,2.7l-2.7,2.7l-2.7,-2.7zM549.18,351.62l2.7,2.7l-2.7,2.7l-2.7,-2.7zM554.62,351.62l2.7,2.7l-2.7,2.7l-2.7,-2.7zM560.06,351.93l2.7,2.7l-2.7,2.7l-2.7,-2.7zM565.5,352.56l2.7,2.7l-2.7,2.7l-2.7,-2.7zM570.94,353.19l2.7,2.7l-2.7,2.7l-2.7,-2.7zM576.38,353.81l2.7,2.7l-2.7,2.7l-2.7,-2.7zM581.82,354.44l2.7,2.7l-2.7,2.7l-2.7,-2.7zM587.26,354.75l2.7,2.7l-2.7,2.7l-2.7,-2.7zM592.7,355.07l2.7,2.7l-2.7,2.7l-2.7,-2.7zM598.14,355.38l2.7,2.7l-2.7,2.7l-2.7,-2.7zM603.58,355.7l2.7,2.7l-2.7,2.7l-2.7,-2.7zM609.02,356.01l2.7,2.7l-2.7,2.7l-2.7,-2.7zM614.46,356.32l2.7,2.7l-2.7,2.7l-2.7,-2.7zM619.9,356.64l2.7,2.7l-2.7,2.7l-2.7,-2.7zM625.34,356.95l2.7,2.7l-2.7,2.7l-2.7,-2.7zM630.78,356.95l2.7,2.7l-2.7,2.7l-2.7,-2.7zM636.22,356.64l2.7,2.7l-2.7,2.7l-2.7,-2.7zM641.66,356.32l2.7,2.7l-2.7,2.7l-2.7,-2.7zM647.1,355.7l2.7,2.7l-2.7,2.7l-2.7,-2.7zM652.54,355.07l2.7,2.7l-2.7,2.7l-2.7,-2.7zM657.98,354.13l2.7,2.7l-2.7,2.7l-2.7,-2.7zM663.42,353.19l2.7,2.7l-2.7,2.7l-2.7,-2.7zM668.86,350.36l2.7,2.7l-2.7,2.7l-2.7,-2.7zM674.3,345.65l2.7,2.7l-2.7,2.7l-2.7,-2.7z"/>
<text class="pl" x="678.6" y="376.9" text-anchor="middle">f</text>
</g>
<g id="panel-g">
<path class="ax" d="M54.5,427.7 L54.5,576.55 L225.8,576.55"/>
<path class="ti" d="M50.3,430.0 L54.5,430.0 M50.3,486.0 L54.5,486.0 M50.3,542.1 L54.5,542.1 M62.2,576.55 L62.2,580.4499999999999 M114.0,576.55 L114.0,580.4499999999999 M165.8,576.55 L165.8,580.4499999999999 M217.6,576.55 L217.6,580.4499999999999"/>
<text class="tk" x="44.7" y="434.0" text-anchor="end">0.03</text>
<text class="tk" x="44.7" y="490.0" text-anchor="end">0.02</text>
<text class="tk" x="44.7" y="546.1" text-anchor="end">0.01</text>
<text class="tk" x="62.4" y="593.95" text-anchor="middle">5</text>
<text class="tk" x="114.9" y="593.95" text-anchor="middle">105</text>
<text class="tk" x="166.0" y="593.95" text-anchor="middle">205</text>
<text class="tk" x="217.8" y="593.95" text-anchor="middle">305</text>
<g class="m"><circle cx="62.2" cy="541.22" r="2.65"/><circle cx="67.38" cy="558.14" r="2.65"/><circle cx="72.56" cy="562.58" r="2.65"/><circle cx="77.74" cy="559.53" r="2.65"/><circle cx="82.92" cy="555.37" r="2.65"/><circle cx="88.1" cy="551.21" r="2.65"/><circle cx="93.28" cy="548.71" r="2.65"/><circle cx="98.46" cy="547.6" r="2.65"/><circle cx="103.64" cy="547.32" r="2.65"/><circle cx="108.82" cy="547.6" r="2.65"/><circle cx="114.0" cy="547.88" r="2.65"/><circle cx="119.18" cy="548.16" r="2.65"/><circle cx="124.36" cy="548.43" r="2.65"/><circle cx="129.54" cy="548.16" r="2.65"/><circle cx="134.72" cy="547.6" r="2.65"/><circle cx="139.9" cy="545.38" r="2.65"/><circle cx="145.08" cy="544.27" r="2.65"/><circle cx="150.26" cy="542.88" r="2.65"/><circle cx="155.44" cy="541.22" r="2.65"/><circle cx="160.62" cy="538.72" r="2.65"/><circle cx="165.8" cy="535.95" r="2.65"/><circle cx="170.98" cy="532.62" r="2.65"/><circle cx="176.16" cy="529.02" r="2.65"/><circle cx="181.34" cy="525.13" r="2.65"/><circle cx="186.52" cy="520.97" r="2.65"/><circle cx="191.7" cy="516.53" r="2.65"/><circle cx="196.88" cy="512.37" r="2.65"/><circle cx="202.06" cy="508.21" r="2.65"/><circle cx="207.24" cy="503.22" r="2.65"/><circle cx="212.42" cy="498.5" r="2.65"/><circle cx="217.6" cy="492.12" r="2.65"/></g>
<path class="m" d="M62.2,555.14l3.3,6.0h-6.6zM67.38,565.4l3.3,6.0h-6.6zM72.56,565.96l3.3,6.0h-6.6zM77.74,562.08l3.3,6.0h-6.6zM82.92,557.08l3.3,6.0h-6.6zM88.1,552.92l3.3,6.0h-6.6zM93.28,549.59l3.3,6.0h-6.6zM98.46,547.37l3.3,6.0h-6.6zM103.64,545.99l3.3,6.0h-6.6zM108.82,545.16l3.3,6.0h-6.6zM114.0,544.6l3.3,6.0h-6.6zM119.18,544.05l3.3,6.0h-6.6zM124.36,543.21l3.3,6.0h-6.6zM129.54,541.83l3.3,6.0h-6.6zM134.72,540.16l3.3,6.0h-6.6zM139.9,538.22l3.3,6.0h-6.6zM145.08,536.0l3.3,6.0h-6.6zM150.26,533.5l3.3,6.0h-6.6zM155.44,530.73l3.3,6.0h-6.6zM160.62,527.96l3.3,6.0h-6.6zM165.8,525.18l3.3,6.0h-6.6zM170.98,522.41l3.3,6.0h-6.6zM176.16,519.36l3.3,6.0h-6.6zM181.34,516.03l3.3,6.0h-6.6zM186.52,512.15l3.3,6.0h-6.6zM191.7,507.71l3.3,6.0h-6.6zM196.88,502.44l3.3,6.0h-6.6zM202.06,495.5l3.3,6.0h-6.6zM207.24,487.18l3.3,6.0h-6.6zM212.42,476.08l3.3,6.0h-6.6zM217.6,460.27l3.3,6.0h-6.6z"/>
<path class="m" d="M62.2,556.55l2.7,2.7l-2.7,2.7l-2.7,-2.7zM67.38,558.22l2.7,2.7l-2.7,2.7l-2.7,-2.7zM72.56,559.32l2.7,2.7l-2.7,2.7l-2.7,-2.7zM77.74,552.39l2.7,2.7l-2.7,2.7l-2.7,-2.7zM82.92,544.9l2.7,2.7l-2.7,2.7l-2.7,-2.7zM88.1,539.91l2.7,2.7l-2.7,2.7l-2.7,-2.7zM93.28,537.97l2.7,2.7l-2.7,2.7l-2.7,-2.7zM98.46,538.52l2.7,2.7l-2.7,2.7l-2.7,-2.7zM103.64,540.18l2.7,2.7l-2.7,2.7l-2.7,-2.7zM108.82,542.68l2.7,2.7l-2.7,2.7l-2.7,-2.7zM114.0,544.35l2.7,2.7l-2.7,2.7l-2.7,-2.7zM119.18,544.9l2.7,2.7l-2.7,2.7l-2.7,-2.7zM124.36,544.9l2.7,2.7l-2.7,2.7l-2.7,-2.7zM129.54,544.35l2.7,2.7l-2.7,2.7l-2.7,-2.7zM134.72,543.51l2.7,2.7l-2.7,2.7l-2.7,-2.7zM139.9,542.13l2.7,2.7l-2.7,2.7l-2.7,-2.7zM145.08,540.46l2.7,2.7l-2.7,2.7l-2.7,-2.7zM150.26,538.8l2.7,2.7l-2.7,2.7l-2.7,-2.7zM155.44,537.41l2.7,2.7l-2.7,2.7l-2.7,-2.7zM160.62,537.13l2.7,2.7l-2.7,2.7l-2.7,-2.7zM165.8,537.97l2.7,2.7l-2.7,2.7l-2.7,-2.7zM170.98,539.35l2.7,2.7l-2.7,2.7l-2.7,-2.7zM176.16,540.46l2.7,2.7l-2.7,2.7l-2.7,-2.7zM181.34,541.02l2.7,2.7l-2.7,2.7l-2.7,-2.7zM186.52,540.74l2.7,2.7l-2.7,2.7l-2.7,-2.7zM191.7,538.52l2.7,2.7l-2.7,2.7l-2.7,-2.7zM196.88,533.25l2.7,2.7l-2.7,2.7l-2.7,-2.7zM202.06,523.26l2.7,2.7l-2.7,2.7l-2.7,-2.7zM207.24,506.62l2.7,2.7l-2.7,2.7l-2.7,-2.7zM212.42,478.6l2.7,2.7l-2.7,2.7l-2.7,-2.7zM217.6,431.72l2.7,2.7l-2.7,2.7l-2.7,-2.7z"/>
<text class="pl" x="221.7" y="571.0" text-anchor="middle">g</text>
</g>
<g id="panel-h">
<path class="ax" d="M285.5,427.7 L285.5,576.55 L456.7,576.55"/>
<path class="ti" d="M281.3,429.6 L285.5,429.6 M281.3,480.4 L285.5,480.4 M281.3,531.5 L285.5,531.5 M293.4,576.55 L293.4,580.4499999999999 M345.2,576.55 L345.2,580.4499999999999 M397.0,576.55 L397.0,580.4499999999999 M448.8,576.55 L448.8,580.4499999999999"/>
<text class="tk" x="275.7" y="433.6" text-anchor="end">0.15</text>
<text class="tk" x="275.7" y="484.4" text-anchor="end">0.10</text>
<text class="tk" x="275.7" y="535.5" text-anchor="end">0.05</text>
<text class="tk" x="293.6" y="593.95" text-anchor="middle">5</text>
<text class="tk" x="346.1" y="593.95" text-anchor="middle">105</text>
<text class="tk" x="397.2" y="593.95" text-anchor="middle">205</text>
<text class="tk" x="449.0" y="593.95" text-anchor="middle">305</text>
<g class="m"><circle cx="293.4" cy="470.08" r="2.65"/><circle cx="298.58" cy="524.82" r="2.65"/><circle cx="303.76" cy="552.05" r="2.65"/><circle cx="308.94" cy="564.14" r="2.65"/><circle cx="314.12" cy="568.08" r="2.65"/><circle cx="319.3" cy="568.61" r="2.65"/><circle cx="324.48" cy="568.34" r="2.65"/><circle cx="329.66" cy="568.08" r="2.65"/><circle cx="334.84" cy="568.08" r="2.65"/><circle cx="340.02" cy="568.34" r="2.65"/><circle cx="345.2" cy="568.61" r="2.65"/><circle cx="350.38" cy="568.87" r="2.65"/><circle cx="355.56" cy="569.13" r="2.65"/><circle cx="360.74" cy="569.4" r="2.65"/><circle cx="365.92" cy="569.4" r="2.65"/><circle cx="371.1" cy="569.13" r="2.65"/><circle cx="376.28" cy="568.61" r="2.65"/><circle cx="381.46" cy="568.08" r="2.65"/><circle cx="386.64" cy="567.29" r="2.65"/><circle cx="391.82" cy="566.51" r="2.65"/><circle cx="397.0" cy="565.72" r="2.65"/><circle cx="402.18" cy="564.67" r="2.65"/><circle cx="407.36" cy="563.35" r="2.65"/><circle cx="412.54" cy="562.04" r="2.65"/><circle cx="417.72" cy="560.46" r="2.65"/><circle cx="422.9" cy="559.15" r="2.65"/><circle cx="428.08" cy="557.83" r="2.65"/><circle cx="433.26" cy="556.26" r="2.65"/><circle cx="438.44" cy="552.05" r="2.65"/><circle cx="443.62" cy="541.81" r="2.65"/><circle cx="448.8" cy="522.1" r="2.65"/></g>
<path class="m" d="M293.4,431.91l3.3,6.0h-6.6zM298.58,503.24l3.3,6.0h-6.6zM303.76,538.02l3.3,6.0h-6.6zM308.94,553.26l3.3,6.0h-6.6zM314.12,557.73l3.3,6.0h-6.6zM319.3,556.94l3.3,6.0h-6.6zM324.48,555.62l3.3,6.0h-6.6zM329.66,554.57l3.3,6.0h-6.6zM334.84,554.31l3.3,6.0h-6.6zM340.02,554.83l3.3,6.0h-6.6zM345.2,555.62l3.3,6.0h-6.6zM350.38,556.41l3.3,6.0h-6.6zM355.56,557.2l3.3,6.0h-6.6zM360.74,557.99l3.3,6.0h-6.6zM365.92,558.78l3.3,6.0h-6.6zM371.1,559.56l3.3,6.0h-6.6zM376.28,560.09l3.3,6.0h-6.6zM381.46,560.62l3.3,6.0h-6.6zM386.64,560.62l3.3,6.0h-6.6zM391.82,560.09l3.3,6.0h-6.6zM397.0,559.04l3.3,6.0h-6.6zM402.18,557.46l3.3,6.0h-6.6zM407.36,555.36l3.3,6.0h-6.6zM412.54,553.26l3.3,6.0h-6.6zM417.72,551.16l3.3,6.0h-6.6zM422.9,549.58l3.3,6.0h-6.6zM428.08,548.0l3.3,6.0h-6.6zM433.26,545.38l3.3,6.0h-6.6zM438.44,540.65l3.3,6.0h-6.6zM443.62,530.66l3.3,6.0h-6.6zM448.8,509.12l3.3,6.0h-6.6z"/>
<path class="m" d="M293.4,434.53l2.7,2.7l-2.7,2.7l-2.7,-2.7zM298.58,506.2l2.7,2.7l-2.7,2.7l-2.7,-2.7zM303.76,542.26l2.7,2.7l-2.7,2.7l-2.7,-2.7zM308.94,553.56l2.7,2.7l-2.7,2.7l-2.7,-2.7zM314.12,556.97l2.7,2.7l-2.7,2.7l-2.7,-2.7zM319.3,556.19l2.7,2.7l-2.7,2.7l-2.7,-2.7zM324.48,554.87l2.7,2.7l-2.7,2.7l-2.7,-2.7zM329.66,553.82l2.7,2.7l-2.7,2.7l-2.7,-2.7zM334.84,553.56l2.7,2.7l-2.7,2.7l-2.7,-2.7zM340.02,554.08l2.7,2.7l-2.7,2.7l-2.7,-2.7zM345.2,554.87l2.7,2.7l-2.7,2.7l-2.7,-2.7zM350.38,555.66l2.7,2.7l-2.7,2.7l-2.7,-2.7zM355.56,556.45l2.7,2.7l-2.7,2.7l-2.7,-2.7zM360.74,557.24l2.7,2.7l-2.7,2.7l-2.7,-2.7zM365.92,558.03l2.7,2.7l-2.7,2.7l-2.7,-2.7zM371.1,558.81l2.7,2.7l-2.7,2.7l-2.7,-2.7zM376.28,559.34l2.7,2.7l-2.7,2.7l-2.7,-2.7zM381.46,559.86l2.7,2.7l-2.7,2.7l-2.7,-2.7zM386.64,559.86l2.7,2.7l-2.7,2.7l-2.7,-2.7zM391.82,559.34l2.7,2.7l-2.7,2.7l-2.7,-2.7zM397.0,558.55l2.7,2.7l-2.7,2.7l-2.7,-2.7zM402.18,557.5l2.7,2.7l-2.7,2.7l-2.7,-2.7zM407.36,556.71l2.7,2.7l-2.7,2.7l-2.7,-2.7zM412.54,554.87l2.7,2.7l-2.7,2.7l-2.7,-2.7zM417.72,553.03l2.7,2.7l-2.7,2.7l-2.7,-2.7zM422.9,551.72l2.7,2.7l-2.7,2.7l-2.7,-2.7zM428.08,550.67l2.7,2.7l-2.7,2.7l-2.7,-2.7zM433.26,549.35l2.7,2.7l-2.7,2.7l-2.7,-2.7zM438.44,544.89l2.7,2.7l-2.7,2.7l-2.7,-2.7zM443.62,537.01l2.7,2.7l-2.7,2.7l-2.7,-2.7zM448.8,515.99l2.7,2.7l-2.7,2.7l-2.7,-2.7z"/>
<text class="pl" x="455.6" y="571.2" text-anchor="middle">h</text>
</g>
<g id="panel-i">
<path class="ax" d="M511.4,427.7 L511.4,576.55 L682.8,576.55"/>
<path class="ti" d="M507.2,460.8 L511.4,460.8 M507.2,500.6 L511.4,500.6 M507.2,540.4 L511.4,540.4 M519.1,576.55 L519.1,580.4499999999999 M570.9,576.55 L570.9,580.4499999999999 M622.7,576.55 L622.7,580.4499999999999 M674.5,576.55 L674.5,580.4499999999999"/>
<text class="tk" x="501.59999999999997" y="464.8" text-anchor="end">0.16</text>
<text class="tk" x="501.59999999999997" y="504.6" text-anchor="end">0.12</text>
<text class="tk" x="501.59999999999997" y="544.4" text-anchor="end">0.08</text>
<text class="tk" x="519.3" y="593.95" text-anchor="middle">5</text>
<text class="tk" x="571.8" y="593.95" text-anchor="middle">105</text>
<text class="tk" x="622.9" y="593.95" text-anchor="middle">205</text>
<text class="tk" x="674.7" y="593.95" text-anchor="middle">305</text>
<g class="m"><circle cx="519.1" cy="471.74" r="2.65"/><circle cx="524.28" cy="528.14" r="2.65"/><circle cx="529.46" cy="555.01" r="2.65"/><circle cx="534.64" cy="565.96" r="2.65"/><circle cx="539.82" cy="568.95" r="2.65"/><circle cx="545.0" cy="568.95" r="2.65"/><circle cx="550.18" cy="568.28" r="2.65"/><circle cx="555.36" cy="567.62" r="2.65"/><circle cx="560.54" cy="567.62" r="2.65"/><circle cx="565.72" cy="567.95" r="2.65"/><circle cx="570.9" cy="568.62" r="2.65"/><circle cx="576.08" cy="569.28" r="2.65"/><circle cx="581.26" cy="569.61" r="2.65"/><circle cx="586.44" cy="569.94" r="2.65"/><circle cx="591.62" cy="569.61" r="2.65"/><circle cx="596.8" cy="569.28" r="2.65"/><circle cx="601.98" cy="568.62" r="2.65"/><circle cx="607.16" cy="567.62" r="2.65"/><circle cx="612.34" cy="566.63" r="2.65"/><circle cx="617.52" cy="565.63" r="2.65"/><circle cx="622.7" cy="564.14" r="2.65"/><circle cx="627.88" cy="562.48" r="2.65"/><circle cx="633.06" cy="560.49" r="2.65"/><circle cx="638.24" cy="558.5" r="2.65"/><circle cx="643.42" cy="556.51" r="2.65"/><circle cx="648.6" cy="554.18" r="2.65"/><circle cx="653.78" cy="551.86" r="2.65"/><circle cx="658.96" cy="549.21" r="2.65"/><circle cx="664.14" cy="544.06" r="2.65"/><circle cx="669.32" cy="534.44" r="2.65"/><circle cx="674.5" cy="512.54" r="2.65"/></g>
<path class="m" d="M519.1,433.23l3.3,6.0h-6.6zM524.28,505.9l3.3,6.0h-6.6zM529.46,539.74l3.3,6.0h-6.6zM534.64,554.0l3.3,6.0h-6.6zM539.82,557.32l3.3,6.0h-6.6zM545.0,556.66l3.3,6.0h-6.6zM550.18,555.66l3.3,6.0h-6.6zM555.36,554.67l3.3,6.0h-6.6zM560.54,554.34l3.3,6.0h-6.6zM565.72,554.67l3.3,6.0h-6.6zM570.9,555.33l3.3,6.0h-6.6zM576.08,555.99l3.3,6.0h-6.6zM581.26,556.33l3.3,6.0h-6.6zM586.44,556.66l3.3,6.0h-6.6zM591.62,556.99l3.3,6.0h-6.6zM596.8,556.99l3.3,6.0h-6.6zM601.98,556.99l3.3,6.0h-6.6zM607.16,556.99l3.3,6.0h-6.6zM612.34,556.66l3.3,6.0h-6.6zM617.52,556.33l3.3,6.0h-6.6zM622.7,555.66l3.3,6.0h-6.6zM627.88,554.0l3.3,6.0h-6.6zM633.06,551.35l3.3,6.0h-6.6zM638.24,548.36l3.3,6.0h-6.6zM643.42,545.71l3.3,6.0h-6.6zM648.6,543.39l3.3,6.0h-6.6zM653.78,541.4l3.3,6.0h-6.6zM658.96,538.41l3.3,6.0h-6.6zM664.14,529.12l3.3,6.0h-6.6zM669.32,518.17l3.3,6.0h-6.6zM674.5,493.29l3.3,6.0h-6.6z"/>
<path class="m" d="M519.1,431.54l2.7,2.7l-2.7,2.7l-2.7,-2.7zM524.28,505.2l2.7,2.7l-2.7,2.7l-2.7,-2.7zM529.46,538.38l2.7,2.7l-2.7,2.7l-2.7,-2.7zM534.64,549.99l2.7,2.7l-2.7,2.7l-2.7,-2.7zM539.82,551.65l2.7,2.7l-2.7,2.7l-2.7,-2.7zM545.0,549.99l2.7,2.7l-2.7,2.7l-2.7,-2.7zM550.18,548.33l2.7,2.7l-2.7,2.7l-2.7,-2.7zM555.36,547.34l2.7,2.7l-2.7,2.7l-2.7,-2.7zM560.54,547.67l2.7,2.7l-2.7,2.7l-2.7,-2.7zM565.72,548.66l2.7,2.7l-2.7,2.7l-2.7,-2.7zM570.9,549.66l2.7,2.7l-2.7,2.7l-2.7,-2.7zM576.08,550.65l2.7,2.7l-2.7,2.7l-2.7,-2.7zM581.26,551.32l2.7,2.7l-2.7,2.7l-2.7,-2.7zM586.44,551.98l2.7,2.7l-2.7,2.7l-2.7,-2.7zM591.62,552.65l2.7,2.7l-2.7,2.7l-2.7,-2.7zM596.8,552.98l2.7,2.7l-2.7,2.7l-2.7,-2.7zM601.98,553.31l2.7,2.7l-2.7,2.7l-2.7,-2.7zM607.16,553.31l2.7,2.7l-2.7,2.7l-2.7,-2.7zM612.34,553.31l2.7,2.7l-2.7,2.7l-2.7,-2.7zM617.52,553.31l2.7,2.7l-2.7,2.7l-2.7,-2.7zM622.7,552.98l2.7,2.7l-2.7,2.7l-2.7,-2.7zM627.88,551.98l2.7,2.7l-2.7,2.7l-2.7,-2.7zM633.06,549.99l2.7,2.7l-2.7,2.7l-2.7,-2.7zM638.24,547.67l2.7,2.7l-2.7,2.7l-2.7,-2.7zM643.42,545.68l2.7,2.7l-2.7,2.7l-2.7,-2.7zM648.6,544.02l2.7,2.7l-2.7,2.7l-2.7,-2.7zM653.78,541.7l2.7,2.7l-2.7,2.7l-2.7,-2.7zM658.96,538.71l2.7,2.7l-2.7,2.7l-2.7,-2.7zM664.14,532.41l2.7,2.7l-2.7,2.7l-2.7,-2.7zM669.32,519.13l2.7,2.7l-2.7,2.7l-2.7,-2.7zM674.5,491.26l2.7,2.7l-2.7,2.7l-2.7,-2.7z"/>
<text class="pl" x="675.6" y="571.2" text-anchor="middle">i</text>
</g>
<text x="362.6" y="616.9" text-anchor="middle" font-size="15.5" font-weight="bold" letter-spacing="0.28" style="fill:#000">Test Day</text>
<text transform="translate(11.2,303.2) rotate(-90)" text-anchor="middle" font-size="15.5" font-weight="bold" letter-spacing="0.28" style="fill:#000">Variance</text>
</svg></body></html>
